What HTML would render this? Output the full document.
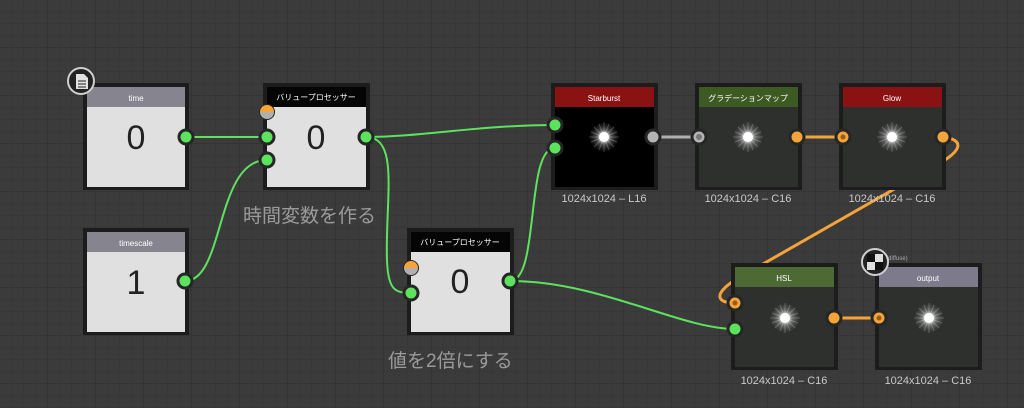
<!DOCTYPE html>
<html><head><meta charset="utf-8"><style>
html,body{margin:0;padding:0;background:#3b3b3b;}
svg{display:block}
text{font-family:"Liberation Sans","Noto Sans CJK JP",sans-serif;}
</style></head><body>
<svg width="1024" height="408" viewBox="0 0 1024 408" xmlns="http://www.w3.org/2000/svg">
<defs>
<pattern id="g" width="12" height="12" patternUnits="userSpaceOnUse">
<path d="M12 0V12M0 12H12" stroke="#363636" stroke-width="1" fill="none"/>
</pattern>
<pattern id="G" width="48" height="48" patternUnits="userSpaceOnUse">
<path d="M48 0V48M0 48H48" stroke="#323232" stroke-width="1.5" fill="none"/>
</pattern>
<radialGradient id="star">
<stop offset="0" stop-color="#fff"/>
<stop offset="0.2" stop-color="#fff" stop-opacity="0.95"/>
<stop offset="0.5" stop-color="#ddd" stop-opacity="0.35"/>
<stop offset="1" stop-color="#888" stop-opacity="0"/>
</radialGradient>
<g id="burst">
<circle r="15" fill="url(#star)"/>
<g stroke="#fff" stroke-opacity="0.22" stroke-width="1">
<path d="M-15 0H15M0 -15V15M-10 -10L10 10M-10 10L10 -10M-13 -5L13 5M-13 5L13 -5M-5 -13L5 13M5 -13L-5 13"/>
</g>
<circle r="5" fill="#fff"/>
</g>
</defs>
<rect width="1024" height="408" fill="#3b3b3b"/>
<rect width="1024" height="408" fill="url(#g)"/>
<rect width="1024" height="408" fill="url(#G)"/>

<g fill="none" stroke-width="2" stroke="#5de25d">
<path d="M186 137H267"/>
<path d="M185 281C225 281 215 160 267 160"/>
<path d="M366 137C420 137 480 125 555 125"/>
<path d="M366 137C400 137 385 200 387 260C388 290 395 293 411 293"/>
<path d="M510 281C540 281 525 148 555 148"/>
<path d="M510 281C600 281 680 329 735 329"/>
</g>
<path d="M653 137H699" stroke="#b0b0b0" stroke-width="3" fill="none"/>
<g fill="none" stroke="#f5a43a" stroke-width="3">
<path d="M797 137H843"/>
<path d="M879 318H834"/>
<path d="M943 137C965 140 960 150 945 160L735 280C712 295 718 303 735 303"/>
</g>

<rect x="83" y="83" width="106" height="107" fill="#1c1c1c"/>
<rect x="87" y="87" width="98" height="20" fill="#86848f"/>
<rect x="87" y="107" width="98" height="80" fill="#e0e0e0"/>
<text x="136" y="101" font-size="8" fill="#fff" text-anchor="middle">time</text>
<text x="136" y="149" font-size="34" fill="#222" text-anchor="middle">0</text>

<rect x="83" y="228" width="106" height="107" fill="#1c1c1c"/>
<rect x="87" y="232" width="98" height="20" fill="#86848f"/>
<rect x="87" y="252" width="98" height="80" fill="#e0e0e0"/>
<text x="136" y="246" font-size="8" fill="#fff" text-anchor="middle">timescale</text>
<text x="136" y="294" font-size="34" fill="#222" text-anchor="middle">1</text>

<rect x="263" y="83" width="107" height="107" fill="#1c1c1c"/>
<rect x="267" y="87" width="99" height="20" fill="#050505"/>
<rect x="267" y="107" width="99" height="80" fill="#e0e0e0"/>
<text x="316" y="100" font-size="8" fill="#fff" text-anchor="middle">バリュープロセッサー</text>
<text x="316" y="149" font-size="34" fill="#222" text-anchor="middle">0</text>

<rect x="407" y="228" width="107" height="107" fill="#1c1c1c"/>
<rect x="411" y="232" width="99" height="20" fill="#050505"/>
<rect x="411" y="252" width="99" height="80" fill="#e0e0e0"/>
<text x="460" y="245" font-size="8" fill="#fff" text-anchor="middle">バリュープロセッサー</text>
<text x="460" y="293" font-size="34" fill="#222" text-anchor="middle">0</text>

<rect x="551" y="83" width="107" height="107" fill="#1c1c1c"/>
<rect x="555" y="87" width="99" height="20" fill="#8a1212"/>
<rect x="555" y="107" width="99" height="80" fill="#000"/>
<text x="604" y="101" font-size="8" fill="#fff" text-anchor="middle">Starburst</text>
<use href="#burst" x="604" y="137"/>
<text x="604" y="202" font-size="11" fill="#c8c8c8" text-anchor="middle">1024x1024 – L16</text>

<rect x="695" y="83" width="107" height="107" fill="#1c1c1c"/>
<rect x="699" y="87" width="99" height="20" fill="#3d5a23"/>
<rect x="699" y="107" width="99" height="80" fill="#2e302e"/>
<text x="748" y="101" font-size="8" fill="#fff" text-anchor="middle">グラデーションマップ</text>
<use href="#burst" x="748" y="137"/>
<text x="748" y="202" font-size="11" fill="#c8c8c8" text-anchor="middle">1024x1024 – C16</text>

<rect x="839" y="83" width="107" height="107" fill="#1c1c1c"/>
<rect x="843" y="87" width="99" height="20" fill="#8a1212"/>
<rect x="843" y="107" width="99" height="80" fill="#2e302e"/>
<text x="892" y="101" font-size="8" fill="#fff" text-anchor="middle">Glow</text>
<use href="#burst" x="892" y="137"/>
<text x="892" y="202" font-size="11" fill="#c8c8c8" text-anchor="middle">1024x1024 – C16</text>

<rect x="731" y="263" width="107" height="107" fill="#1c1c1c"/>
<rect x="735" y="267" width="99" height="20" fill="#4d6a34"/>
<rect x="735" y="287" width="99" height="80" fill="#2e302e"/>
<text x="784" y="281" font-size="8" fill="#fff" text-anchor="middle">HSL</text>
<use href="#burst" x="785" y="318"/>
<text x="784" y="384" font-size="11" fill="#c8c8c8" text-anchor="middle">1024x1024 – C16</text>

<rect x="875" y="263" width="107" height="107" fill="#1c1c1c"/>
<rect x="879" y="267" width="99" height="20" fill="#7c7a8b"/>
<rect x="879" y="287" width="99" height="80" fill="#2e302e"/>
<text x="928" y="281" font-size="8" fill="#fff" text-anchor="middle">output</text>
<use href="#burst" x="929" y="318"/>
<text x="928" y="384" font-size="11" fill="#c8c8c8" text-anchor="middle">1024x1024 – C16</text>
<text x="886" y="260" font-size="6" fill="#aaa">(diffuse)</text>

<g stroke="#262626" stroke-width="3">
<circle cx="186" cy="137" r="7" fill="#5de25d"/>
<circle cx="185" cy="281" r="7" fill="#5de25d"/>
<circle cx="267" cy="137" r="7" fill="#5de25d"/>
<circle cx="267" cy="160" r="7" fill="#5de25d"/>
<circle cx="366" cy="137" r="7" fill="#5de25d"/>
<circle cx="411" cy="293" r="7" fill="#5de25d"/>
<circle cx="510" cy="281" r="7" fill="#5de25d"/>
<circle cx="555" cy="125" r="7" fill="#5de25d"/>
<circle cx="555" cy="148" r="7" fill="#5de25d"/>
<circle cx="735" cy="329" r="7" fill="#5de25d"/>
<circle cx="653" cy="137" r="7" fill="#b4b4b4"/>
<circle cx="699" cy="137" r="7" fill="#b4b4b4"/>
<circle cx="797" cy="137" r="7" fill="#f5a43a"/>
<circle cx="843" cy="137" r="7" fill="#f5a43a"/>
<circle cx="943" cy="137" r="7" fill="#f5a43a"/>
<circle cx="735" cy="303" r="7" fill="#f5a43a"/>
<circle cx="834" cy="318" r="7" fill="#f5a43a"/>
<circle cx="879" cy="318" r="7" fill="#f5a43a"/>
</g>
<circle cx="699" cy="137" r="3" fill="#777"/>
<circle cx="843" cy="137" r="2.5" fill="#9a5a10"/>
<circle cx="735" cy="303" r="2.5" fill="#9a5a10"/>
<circle cx="879" cy="318" r="2.5" fill="#9a5a10"/>
<g>
<circle cx="267" cy="112" r="8" fill="#262626"/>
<path d="M260 112A7 7 0 0 1 274 112Z" fill="#f5a43a"/>
<path d="M260 112A7 7 0 0 0 274 112Z" fill="#b0b0b0"/>
<circle cx="411" cy="268" r="8" fill="#262626"/>
<path d="M404 268A7 7 0 0 1 418 268Z" fill="#f5a43a"/>
<path d="M404 268A7 7 0 0 0 418 268Z" fill="#b0b0b0"/>
</g>

<circle cx="81" cy="81" r="13" fill="#222" stroke="#cfcfcf" stroke-width="2"/>
<path d="M76 74H84L88 78V89H76Z" fill="#e0e0e0"/>
<path d="M78 81H86M78 84H86M78 87H86" stroke="#222" stroke-width="1"/>
<circle cx="875" cy="262" r="13" fill="#222" stroke="#cfcfcf" stroke-width="2"/>
<rect x="867" y="254" width="16" height="16" fill="#e0e0e0"/>
<rect x="867" y="254" width="8" height="8" fill="#111"/>
<rect x="875" y="262" width="8" height="8" fill="#111"/>

<text x="243" y="222" font-size="19" fill="#9a9a9a">時間変数を作る</text>
<text x="388" y="367" font-size="19" fill="#9a9a9a">値を2倍にする</text>
</svg>
</body></html>
